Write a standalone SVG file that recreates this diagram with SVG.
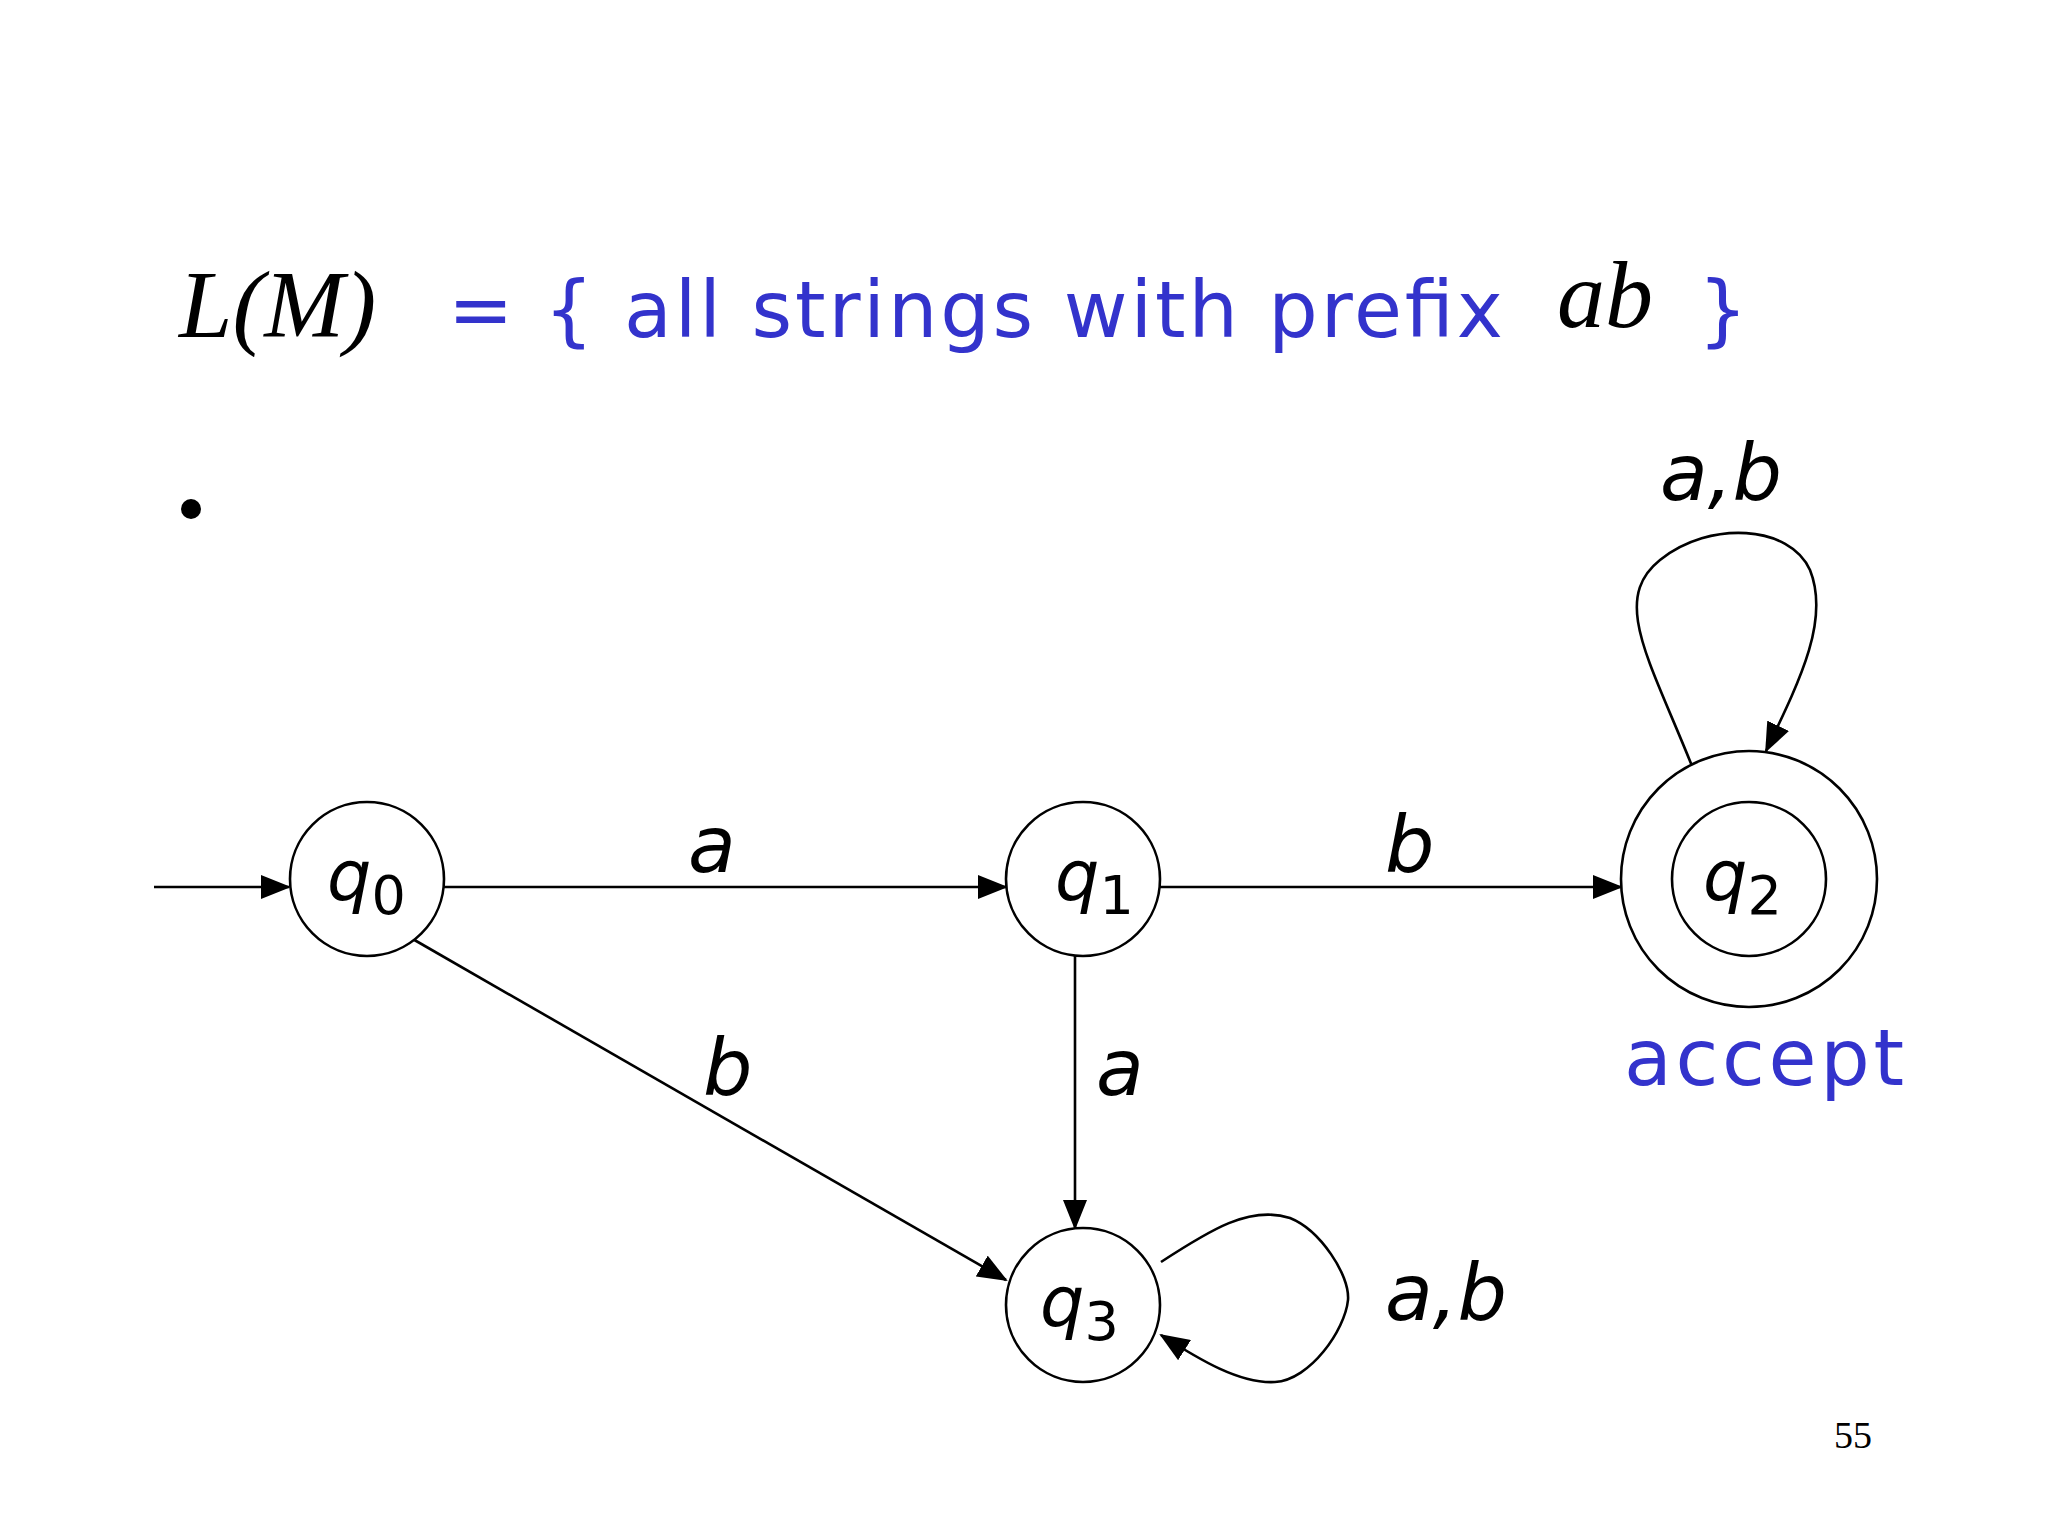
<svg xmlns="http://www.w3.org/2000/svg" width="2048" height="1536" viewBox="0 0 2048 1536">
<style>
.st{fill:#fff;stroke:#000;stroke-width:2.6}
.ln{fill:none;stroke:#000;stroke-width:2.6}
.lb{font-family:"DejaVu Sans","Liberation Sans",sans-serif;font-style:italic;font-size:78px;fill:#000}
.q{font-family:"DejaVu Sans","Liberation Sans",sans-serif;font-style:italic;font-size:70px;fill:#000}
.sub{font-size:54px;font-style:normal}
.blue{font-family:"DejaVu Sans","Liberation Sans",sans-serif;font-size:78px;fill:#3333cc}
.tm{font-family:"Liberation Serif",serif;font-style:italic;font-size:96px;fill:#000}
</style>
<defs><marker id="ar2" markerWidth="30" markerHeight="24" refX="28" refY="12" orient="auto" markerUnits="userSpaceOnUse" viewBox="0 0 30 24"><path d="M0,0L30,12L0,24z" fill="#000"/></marker></defs>
<rect width="2048" height="1536" fill="#fff"/>
<text x="179" y="337" class="tm">L(M)</text>
<text x="448" y="337" class="blue" textLength="1055" lengthAdjust="spacing">= { all strings with prefix</text>
<text x="1557" y="327" class="tm">ab</text>
<text x="1698" y="337" class="blue">}</text>
<circle cx="191" cy="509" r="10" fill="#000"/>
<g id="connectors">
<line x1="154" y1="887" x2="289" y2="887" class="ln" marker-end="url(#ar2)"/>
<line x1="444" y1="887" x2="1006" y2="887" class="ln" marker-end="url(#ar2)"/>
<line x1="1160" y1="887" x2="1621" y2="887" class="ln" marker-end="url(#ar2)"/>
<line x1="411" y1="938" x2="1006" y2="1280" class="ln" marker-end="url(#ar2)"/>
<line x1="1075" y1="956" x2="1075" y2="1228" class="ln" marker-end="url(#ar2)"/>
<path d="M1694,771 C1650,660 1610,600 1660,560 C1710,520 1790,525 1810,570 C1830,620 1800,680 1766,751" class="ln" marker-end="url(#ar2)"/>
<path d="M1161,1262 C1210,1230 1250,1205 1290,1218 C1320,1230 1350,1275 1348,1300 C1345,1330 1310,1380 1275,1382 C1240,1384 1200,1360 1161,1335" class="ln" marker-end="url(#ar2)"/>
<text x="688" y="872" class="lb">a</text>
<text x="1385" y="872" class="lb">b</text>
<text x="703" y="1095" class="lb">b</text>
<text x="1096" y="1095" class="lb">a</text>
<text x="1660" y="500" class="lb">a,b</text>
<text x="1385" y="1320" class="lb">a,b</text>
</g>
<g id="q0"><circle cx="367" cy="879" r="77" class="st"/><text x="327" y="900" class="q">q<tspan class="sub" dy="14">0</tspan></text></g>
<g id="q1"><circle cx="1083" cy="879" r="77" class="st"/><text x="1055" y="900" class="q">q<tspan class="sub" dy="14">1</tspan></text></g>
<g id="q2"><circle cx="1749" cy="879" r="128" class="st"/><circle cx="1749" cy="879" r="77" class="st"/><text x="1703" y="900" class="q">q<tspan class="sub" dy="14">2</tspan></text><text x="1624" y="1085" class="blue" textLength="280" lengthAdjust="spacing">accept</text></g>
<g id="q3"><circle cx="1083" cy="1305" r="77" class="st"/><text x="1040" y="1326" class="q">q<tspan class="sub" dy="14">3</tspan></text></g>
<text x="1834" y="1448" font-family="Liberation Serif,serif" font-size="38">55</text>
</svg>
